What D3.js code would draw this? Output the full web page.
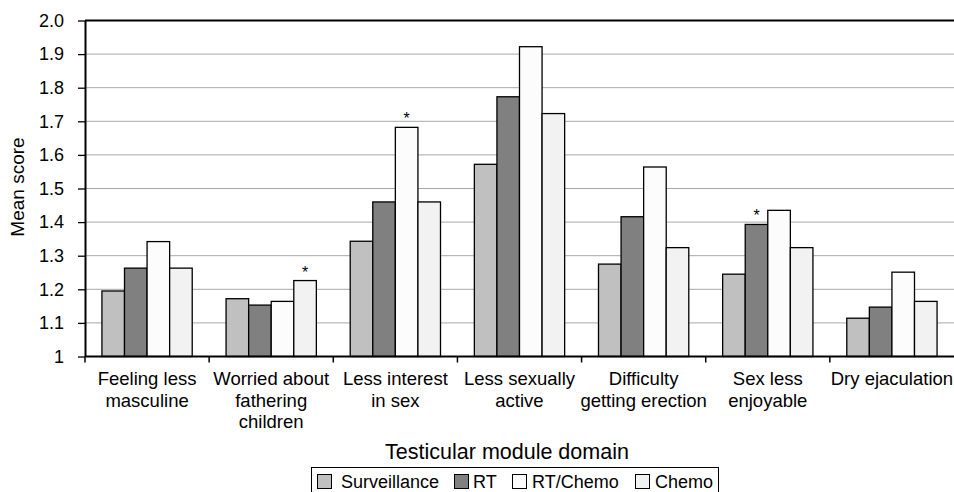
<!DOCTYPE html>
<html>
<head>
<meta charset="utf-8">
<script src="https://cdn.jsdelivr.net/npm/d3@7"></script>
<style>
  html, body { margin: 0; padding: 0; background: #fff; }
  svg { display: block; font-family: "Liberation Sans", Arial, Helvetica, sans-serif; }
</style>
</head>
<body>
<svg id="chart" width="954" height="492"></svg>
<script>
// ---- data ----
const categories = [
  "Feeling less masculine",
  "Worried about fathering children",
  "Less interest in sex",
  "Less sexually active",
  "Difficulty getting erection",
  "Sex less enjoyable",
  "Dry ejaculation"
];
const categoryLines = [
  ["Feeling less", "masculine"],
  ["Worried about", "fathering", "children"],
  ["Less interest", "in sex"],
  ["Less sexually", "active"],
  ["Difficulty", "getting erection"],
  ["Sex less", "enjoyable"],
  ["Dry ejaculation"]
];
const seriesNames = ["Surveillance", "RT", "RT/Chemo", "Chemo"];
const surveillance = [1.195, 1.172, 1.343, 1.572, 1.275, 1.245, 1.114];
const rt           = [1.263, 1.153, 1.460, 1.773, 1.416, 1.393, 1.147];
const rtChemo      = [1.342, 1.164, 1.682, 1.922, 1.564, 1.435, 1.251];
const chemo        = [1.263, 1.226, 1.460, 1.723, 1.324, 1.324, 1.164];
const seriesColors = ["#c0c0c0", "#808080", "#fcfcfc", "#f2f2f2"];
const yTickValues = [1, 1.1, 1.2, 1.3, 1.4, 1.5, 1.6, 1.7, 1.8, 1.9, 2.0];
const yTickLabels = ["1", "1.1", "1.2", "1.3", "1.4", "1.5", "1.6", "1.7", "1.8", "1.9", "2.0"];
// significance markers: [category index, series index]
const significant = [[1, 3], [2, 2], [5, 1]];

const seriesValues = [surveillance, rt, rtChemo, chemo];

// ---- layout ----
const svg = d3.select("#chart");
const plotLeft = 85, plotRight = 954, plotTop = 20.5, plotBottom = 356.5;

const x0 = d3.scaleBand().domain(categories).range([plotLeft, plotRight]).padding(0);
const x1 = d3.scaleBand().domain(seriesNames).range([0, x0.bandwidth()])
  .paddingInner(0).paddingOuter(0.75);
const y = d3.scaleLinear().domain([1, 2]).range([plotBottom, plotTop]);

// gridlines
svg.append("g").selectAll("line")
  .data(yTickValues.filter(v => v > 1 && v < 2))
  .join("line")
  .attr("x1", plotLeft).attr("x2", plotRight)
  .attr("y1", d => y(d)).attr("y2", d => y(d))
  .attr("stroke", "#a8a8a8").attr("stroke-width", 1);

// top frame line
svg.append("line")
  .attr("x1", plotLeft).attr("x2", plotRight)
  .attr("y1", y(2)).attr("y2", y(2))
  .attr("stroke", "#000").attr("stroke-width", 2);

// bars
const groups = svg.append("g").selectAll("g")
  .data(categories)
  .join("g")
  .attr("transform", d => `translate(${x0(d)},0)`);

groups.selectAll("rect")
  .data((c, i) => seriesNames.map((s, j) => ({ s, j, v: seriesValues[j][i] })))
  .join("rect")
  .attr("x", d => x1(d.s))
  .attr("width", x1.bandwidth())
  .attr("y", d => y(d.v))
  .attr("height", d => y(1) - y(d.v))
  .attr("fill", d => seriesColors[d.j])
  .attr("stroke", "#000")
  .attr("stroke-width", 1.3);

// significance stars
svg.append("g").selectAll("text")
  .data(significant)
  .join("text")
  .attr("x", d => x0(categories[d[0]]) + x1(seriesNames[d[1]]) + x1.bandwidth() / 2)
  .attr("y", d => y(seriesValues[d[1]][d[0]]) - 3)
  .attr("text-anchor", "middle")
  .attr("font-size", 16)
  .text("*");

// y axis
const yAxis = d3.axisLeft(y)
  .tickValues(yTickValues)
  .tickFormat((d, i) => yTickLabels[i])
  .tickSize(7).tickSizeOuter(0).tickPadding(14);
const gy = svg.append("g").attr("transform", `translate(${plotLeft},0)`).call(yAxis);
gy.select(".domain").attr("stroke", "#000").attr("stroke-width", 2);
gy.selectAll(".tick line").attr("stroke", "#000").attr("stroke-width", 1.3);
gy.selectAll(".tick text").attr("font-size", 18).attr("fill", "#000")
  .attr("font-family", "Liberation Sans, Arial, sans-serif");

// x axis line
svg.append("line")
  .attr("x1", plotLeft).attr("x2", plotRight)
  .attr("y1", plotBottom).attr("y2", plotBottom)
  .attr("stroke", "#000").attr("stroke-width", 2);
// x ticks at band boundaries
svg.append("g").selectAll("line")
  .data(categories)
  .join("line")
  .attr("x1", d => x0(d)).attr("x2", d => x0(d))
  .attr("y1", plotBottom).attr("y2", plotBottom + 6)
  .attr("stroke", "#000").attr("stroke-width", 1.5);

// x labels
const xl = svg.append("g").selectAll("text")
  .data(categories)
  .join("text")
  .attr("x", d => x0(d) + x0.bandwidth() / 2)
  .attr("y", 385)
  .attr("text-anchor", "middle")
  .attr("font-size", 18.5)
  .attr("fill", "#000");
xl.selectAll("tspan")
  .data((d, i) => categoryLines[i])
  .join("tspan")
  .attr("x", function() { return this.parentNode.getAttribute("x"); })
  .attr("dy", (d, i) => i === 0 ? 0 : 21.5)
  .text(d => d);

// axis titles
svg.append("text")
  .attr("x", 507)
  .attr("y", 459)
  .attr("text-anchor", "middle")
  .attr("font-size", 21.5)
  .text("Testicular module domain");

svg.append("text")
  .attr("transform", "translate(24,187) rotate(-90)")
  .attr("text-anchor", "middle")
  .attr("font-size", 19)
  .text("Mean score");

// legend
const lg = svg.append("g");
lg.append("rect")
  .attr("x", 311.5).attr("y", 467.5).attr("width", 407).attr("height", 30)
  .attr("fill", "none").attr("stroke", "#000").attr("stroke-width", 1);
const swatchX = [317, 454, 512, 635];
const labelX = [341, 473, 532, 655];
seriesNames.forEach((s, i) => {
  lg.append("rect")
    .attr("x", swatchX[i] + 0.5).attr("y", 474.5).attr("width", 14).attr("height", 14)
    .attr("fill", seriesColors[i]).attr("stroke", "#000").attr("stroke-width", 1);
  lg.append("text")
    .attr("x", labelX[i]).attr("y", 487.5)
    .attr("font-size", 18)
    .text(s);
});
</script>
</body>
</html>
